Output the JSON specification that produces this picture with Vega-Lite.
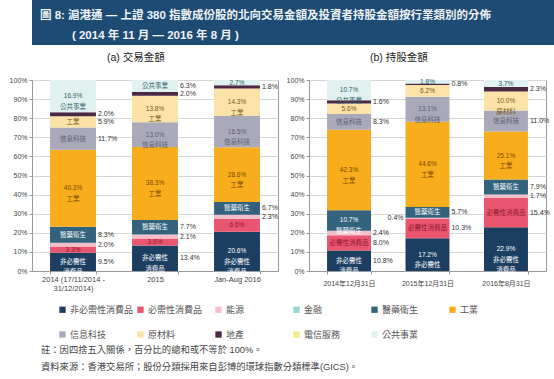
{
  "$schema": "https://vega.github.io/schema/vega-lite/v6.json",
  "padding": 0,
  "background": "white",
  "datasets": {
    "d": [
      {"p":"a","t":"2014 (17/11/2014 -\n31/12/2014)","s":"非必需性消費品","v":9.5,"inl":"非必需性\n消費品","out":"9.5%"},
      {"p":"a","t":"2014 (17/11/2014 -\n31/12/2014)","s":"必需性消費品","v":3.3,"inl":"3.3%"},
      {"p":"a","t":"2014 (17/11/2014 -\n31/12/2014)","s":"能源","v":2.0,"out":"2.0%"},
      {"p":"a","t":"2014 (17/11/2014 -\n31/12/2014)","s":"醫藥衛生","v":8.3,"inl":"醫藥衛生","out":"8.3%"},
      {"p":"a","t":"2014 (17/11/2014 -\n31/12/2014)","s":"工業","v":40.3,"inl":"40.3%\n工業"},
      {"p":"a","t":"2014 (17/11/2014 -\n31/12/2014)","s":"信息科技","v":11.7,"inl":"信息科技","out":"11.7%"},
      {"p":"a","t":"2014 (17/11/2014 -\n31/12/2014)","s":"原材料","v":5.9,"inl":"工業","out":"5.9%"},
      {"p":"a","t":"2014 (17/11/2014 -\n31/12/2014)","s":"地產","v":2.0,"out":"2.0%"},
      {"p":"a","t":"2014 (17/11/2014 -\n31/12/2014)","s":"公共事業","v":16.9,"inl":"16.9%\n公共事業"},
      {"p":"a","t":"2015","s":"非必需性消費品","v":13.4,"inl":"非必需性\n消費品","out":"13.4%"},
      {"p":"a","t":"2015","s":"必需性消費品","v":3.6,"inl":"3.6%"},
      {"p":"a","t":"2015","s":"能源","v":2.1,"out":"2.1%"},
      {"p":"a","t":"2015","s":"醫藥衛生","v":7.7,"inl":"醫藥衛生","out":"7.7%"},
      {"p":"a","t":"2015","s":"工業","v":38.3,"inl":"38.3%\n工業"},
      {"p":"a","t":"2015","s":"信息科技","v":13.0,"inl":"13.0%\n信息科技"},
      {"p":"a","t":"2015","s":"原材料","v":13.8,"inl":"13.8%\n工業"},
      {"p":"a","t":"2015","s":"地產","v":2.0,"out":"2.0%"},
      {"p":"a","t":"2015","s":"公共事業","v":6.3,"inl":"公共事業","out":"6.3%"},
      {"p":"a","t":"Jan-Aug 2016","s":"非必需性消費品","v":20.6,"inl":"20.6%\n非必需性\n消費品"},
      {"p":"a","t":"Jan-Aug 2016","s":"必需性消費品","v":6.6,"inl":"6.6%"},
      {"p":"a","t":"Jan-Aug 2016","s":"能源","v":2.3,"out":"2.3%"},
      {"p":"a","t":"Jan-Aug 2016","s":"醫藥衛生","v":6.7,"inl":"醫藥衛生","out":"6.7%"},
      {"p":"a","t":"Jan-Aug 2016","s":"工業","v":28.6,"inl":"28.6%\n工業"},
      {"p":"a","t":"Jan-Aug 2016","s":"信息科技","v":16.5,"inl":"16.5%\n信息科技"},
      {"p":"a","t":"Jan-Aug 2016","s":"原材料","v":14.3,"inl":"14.3%\n工業"},
      {"p":"a","t":"Jan-Aug 2016","s":"地產","v":1.8,"out":"1.8%"},
      {"p":"a","t":"Jan-Aug 2016","s":"公共事業","v":2.7,"inl":"2.7%"},
      {"p":"b","t":"2014年12月31日","s":"非必需性消費品","v":10.8,"inl":"非必需性\n消費品","out":"10.8%"},
      {"p":"b","t":"2014年12月31日","s":"必需性消費品","v":8.0,"inl":"必需性消費品","out":"8.0%"},
      {"p":"b","t":"2014年12月31日","s":"能源","v":2.4,"out":"2.4%"},
      {"p":"b","t":"2014年12月31日","s":"醫藥衛生","v":10.7,"inl":"10.7%\n醫藥衛生"},
      {"p":"b","t":"2014年12月31日","s":"工業","v":42.3,"inl":"42.3%\n工業"},
      {"p":"b","t":"2014年12月31日","s":"信息科技","v":8.3,"inl":"信息科技","out":"8.3%"},
      {"p":"b","t":"2014年12月31日","s":"原材料","v":5.6,"inl":"5.6%"},
      {"p":"b","t":"2014年12月31日","s":"地產","v":1.6,"out":"1.6%"},
      {"p":"b","t":"2014年12月31日","s":"公共事業","v":10.7,"inl":"10.7%\n公共事業"},
      {"p":"b","t":"2015年12月31日","s":"非必需性消費品","v":17.2,"inl":"17.2%\n非必需性\n消費品"},
      {"p":"b","t":"2015年12月31日","s":"必需性消費品","v":10.3,"inl":"必需性消費品","out":"10.3%"},
      {"p":"b","t":"2015年12月31日","s":"能源","v":0.4,"lft":"0.4%"},
      {"p":"b","t":"2015年12月31日","s":"醫藥衛生","v":5.7,"inl":"醫藥衛生","out":"5.7%"},
      {"p":"b","t":"2015年12月31日","s":"工業","v":44.6,"inl":"44.6%\n工業"},
      {"p":"b","t":"2015年12月31日","s":"信息科技","v":13.1,"inl":"13.1%\n信息科技"},
      {"p":"b","t":"2015年12月31日","s":"原材料","v":6.2,"inl":"6.2%"},
      {"p":"b","t":"2015年12月31日","s":"地產","v":0.8,"out":"0.8%"},
      {"p":"b","t":"2015年12月31日","s":"公共事業","v":1.8,"inl":"1.8%"},
      {"p":"b","t":"2016年8月31日","s":"非必需性消費品","v":22.9,"inl":"22.9%\n非必需性\n消費品"},
      {"p":"b","t":"2016年8月31日","s":"必需性消費品","v":15.4,"inl":"必需性消費品","out":"15.4%"},
      {"p":"b","t":"2016年8月31日","s":"能源","v":1.7,"out":"1.7%"},
      {"p":"b","t":"2016年8月31日","s":"醫藥衛生","v":7.9,"inl":"醫藥衛生","out":"7.9%"},
      {"p":"b","t":"2016年8月31日","s":"工業","v":25.1,"inl":"25.1%\n工業"},
      {"p":"b","t":"2016年8月31日","s":"信息科技","v":11.0,"inl":"信息科技","out":"11.0%"},
      {"p":"b","t":"2016年8月31日","s":"原材料","v":10.0,"inl":"10.0%\n原材料"},
      {"p":"b","t":"2016年8月31日","s":"地產","v":2.3,"out":"2.3%"},
      {"p":"b","t":"2016年8月31日","s":"公共事業","v":3.7,"inl":"3.7%"}
    ]
  },
  "vconcat": [
    {
      "width": 554,
      "height": 45,
      "data": {"values": []},
      "mark": {"type": "text"},
      "encoding": {},
      "view": {"fill": "#1e4b73", "stroke": null},
      "title": {
        "text": ["圖 8:  滬港通 — 上證 380 指數成份股的北向交易金額及投資者持股金額按行業類別的分佈", "\u200b\u00a0\u00a0\u00a0\u00a0\u00a0\u00a0\u00a0\u00a0\u00a0\u00a0( 2014 年 11 月 — 2016 年 8 月 )"],
        "orient": "bottom", "anchor": "start", "frame": "group", "offset": -35, "baseline": "top", "dx": 8,
        "fontSize": 11.5, "fontWeight": "bold", "color": "#eef3f8", "lineHeight": 20
      }
    },
    {
      "hconcat": [
        {
          "width": 246,
          "height": 191,
          "view": {"stroke": "#999"},
          "title": {"text": "(a) 交易金額", "anchor": "start", "frame": "group", "dx": 75, "offset": 13, "fontSize": 10.5, "fontWeight": "normal", "color": "#222"},
          "data": {"name": "d"},
          "transform": [
            {"filter": "datum.p == 'a'"},
            {"calculate": "indexof(['非必需性消費品','必需性消費品','能源','金融','醫藥衛生','工業','信息科技','原材料','地產','電信服務','公共事業'], datum.s)", "as": "k"},
            {"stack": "v", "groupby": ["t"], "sort": [{"field": "k", "order": "ascending"}], "offset": "normalize", "as": ["v0", "v1"]},
            {"calculate": "(datum.v0 + datum.v1) / 2", "as": "mid"}
          ],
          "resolve": {"axis": {"x": "independent", "y": "independent"}},
          "layer": [
            {
              "mark": {"type": "bar"},
              "encoding": {
                "x": {"field": "t", "type": "nominal", "title": null,
                  "scale": {"paddingInner": 0.44, "paddingOuter": 0.22},
                  "axis": {"labelAngle": 0, "labelExpr": "split(datum.label, '\\n')", "tickBand": "extent", "tickSize": 3, "labelPadding": 1, "labelLineHeight": 9, "labelFontSize": 7.5, "grid": false}},
                "y": {"field": "v0", "type": "quantitative", "title": null,
                  "scale": {"domain": [0, 1], "nice": false},
                  "axis": {"values": [0, 0.1, 0.2, 0.3, 0.4, 0.5, 0.6, 0.7, 0.8, 0.9, 1], "labelOverlap": false, "format": ".0%", "grid": true, "tickSize": 3, "labelPadding": 2, "minExtent": 31, "maxExtent": 31}},
                "y2": {"field": "v1"},
                "color": {"field": "s", "type": "nominal",
                  "scale": {"domain": ["非必需性消費品","必需性消費品","能源","金融","醫藥衛生","工業","信息科技","原材料","地產","電信服務","公共事業"],
                            "range": ["#1c3e61","#ea5570","#f3bfcc","#96d8d3","#33627c","#f8ad1d","#a9a9b9","#fbe2a6","#4b2944","#f3ea8c","#e0f1ef"]},
                  "legend": {"orient": "none", "legendX": 26, "legendY": 305, "direction": "horizontal", "columns": 6, "title": null, "symbolType": "square", "symbolSize": 40, "symbolStrokeWidth": 0, "labelFontSize": 9, "labelColor": "#555", "labelOffset": 3, "columnPadding": 2, "rowPadding": 15, "gridAlign": "all", "labelLimit": 200}}
              }
            },
            {
              "transform": [{"filter": "datum.inl"}],
              "mark": {"type": "text", "lineBreak": "\n", "fontSize": 6.5, "lineHeight": 10.5},
              "encoding": {
                "x": {"field": "t", "type": "nominal", "title": null, "axis": null},
                "y": {"field": "mid", "type": "quantitative", "title": null, "axis": null},
                "text": {"field": "inl", "type": "nominal"},
                "fill": {"field": "s", "type": "nominal", "legend": null,
                  "scale": {"domain": ["非必需性消費品","必需性消費品","能源","金融","醫藥衛生","工業","信息科技","原材料","地產","電信服務","公共事業"],
                            "range": ["#ffffff","#8a1c2c","#333333","#333333","#ffffff","#7a4800","#5e5e70","#7a5514","#333333","#333333","#2d5f6a"]}}
              }
            },
            {
              "transform": [{"filter": "datum.out"}],
              "mark": {"type": "text", "align": "left", "dx": 2, "fontSize": 7, "color": "#333"},
              "encoding": {
                "x": {"field": "t", "type": "nominal", "bandPosition": 1, "title": null, "axis": null},
                "y": {"field": "mid", "type": "quantitative", "title": null, "axis": null},
                "text": {"field": "out", "type": "nominal"}
              }
            }
          ]
        },
        {
          "width": 237,
          "height": 191,
          "view": {"stroke": "#999"},
          "title": {"text": "(b) 持股金額", "anchor": "start", "frame": "group", "dx": 61, "offset": 13, "fontSize": 10.5, "fontWeight": "normal", "color": "#222"},
          "data": {"name": "d"},
          "transform": [
            {"filter": "datum.p == 'b'"},
            {"calculate": "indexof(['非必需性消費品','必需性消費品','能源','金融','醫藥衛生','工業','信息科技','原材料','地產','電信服務','公共事業'], datum.s)", "as": "k"},
            {"stack": "v", "groupby": ["t"], "sort": [{"field": "k", "order": "ascending"}], "offset": "normalize", "as": ["v0", "v1"]},
            {"calculate": "(datum.v0 + datum.v1) / 2", "as": "mid"}
          ],
          "resolve": {"axis": {"x": "independent", "y": "independent"}},
          "layer": [
            {
              "mark": {"type": "bar"},
              "encoding": {
                "x": {"field": "t", "type": "nominal", "title": null,
                  "scale": {"paddingInner": 0.44, "paddingOuter": 0.23},
                  "axis": {"labelAngle": 0, "tickBand": "extent", "tickSize": 3, "labelPadding": 5, "labelFontSize": 7, "grid": false}},
                "y": {"field": "v0", "type": "quantitative", "title": null,
                  "scale": {"domain": [0, 1], "nice": false},
                  "axis": {"values": [0, 0.1, 0.2, 0.3, 0.4, 0.5, 0.6, 0.7, 0.8, 0.9, 1], "labelOverlap": false, "format": ".0%", "grid": true, "tickSize": 3, "labelPadding": 2, "minExtent": 24, "maxExtent": 24}},
                "y2": {"field": "v1"},
                "color": {"field": "s", "type": "nominal",
                  "scale": {"domain": ["非必需性消費品","必需性消費品","能源","金融","醫藥衛生","工業","信息科技","原材料","地產","電信服務","公共事業"],
                            "range": ["#1c3e61","#ea5570","#f3bfcc","#96d8d3","#33627c","#f8ad1d","#a9a9b9","#fbe2a6","#4b2944","#f3ea8c","#e0f1ef"]},
                  "legend": {"orient": "none", "legendX": 26, "legendY": 305, "direction": "horizontal", "columns": 6, "title": null, "symbolType": "square", "symbolSize": 40, "symbolStrokeWidth": 0, "labelFontSize": 9, "labelColor": "#555", "labelOffset": 3, "columnPadding": 2, "rowPadding": 15, "gridAlign": "all", "labelLimit": 200}}
              }
            },
            {
              "transform": [{"filter": "datum.inl"}],
              "mark": {"type": "text", "lineBreak": "\n", "fontSize": 6.5, "lineHeight": 10.5},
              "encoding": {
                "x": {"field": "t", "type": "nominal", "title": null, "axis": null},
                "y": {"field": "mid", "type": "quantitative", "title": null, "axis": null},
                "text": {"field": "inl", "type": "nominal"},
                "fill": {"field": "s", "type": "nominal", "legend": null,
                  "scale": {"domain": ["非必需性消費品","必需性消費品","能源","金融","醫藥衛生","工業","信息科技","原材料","地產","電信服務","公共事業"],
                            "range": ["#ffffff","#8a1c2c","#333333","#333333","#ffffff","#7a4800","#5e5e70","#7a5514","#333333","#333333","#2d5f6a"]}}
              }
            },
            {
              "transform": [{"filter": "datum.out"}],
              "mark": {"type": "text", "align": "left", "dx": 2, "fontSize": 7, "color": "#333"},
              "encoding": {
                "x": {"field": "t", "type": "nominal", "bandPosition": 1, "title": null, "axis": null},
                "y": {"field": "mid", "type": "quantitative", "title": null, "axis": null},
                "text": {"field": "out", "type": "nominal"}
              }
            },
            {
              "transform": [{"filter": "datum.lft"}],
              "mark": {"type": "text", "align": "right", "dx": -2, "fontSize": 7, "color": "#333"},
              "encoding": {
                "x": {"field": "t", "type": "nominal", "bandPosition": 0, "title": null, "axis": null},
                "y": {"field": "mid", "type": "quantitative", "title": null, "axis": null},
                "text": {"field": "lft", "type": "nominal"}
              }
            }
          ]
        }
      ],
      "spacing": 5
    },
    {
      "width": 554,
      "height": 30,
      "data": {"values": []},
      "mark": {"type": "text"},
      "encoding": {},
      "title": {
        "text": ["註：因四捨五入關係，百分比的總和或不等於 100%。", "資料來源：香港交易所；股份分類採用來自彭博的環球指數分類標準(GICS)。"],
        "orient": "bottom", "anchor": "start", "frame": "group", "offset": 17, "baseline": "top", "dx": 9,
        "fontSize": 9.3, "fontWeight": "normal", "color": "#444", "lineHeight": 17
      }
    }
  ],
  "spacing": 7,
  "config": {
    "font": "'Liberation Sans', 'Noto Sans CJK TC', sans-serif",
    "view": {"stroke": null},
    "axis": {"labelFontSize": 7, "labelColor": "#444", "domainColor": "#999", "tickColor": "#999", "gridColor": "#d6d6d6"}
  }
}
